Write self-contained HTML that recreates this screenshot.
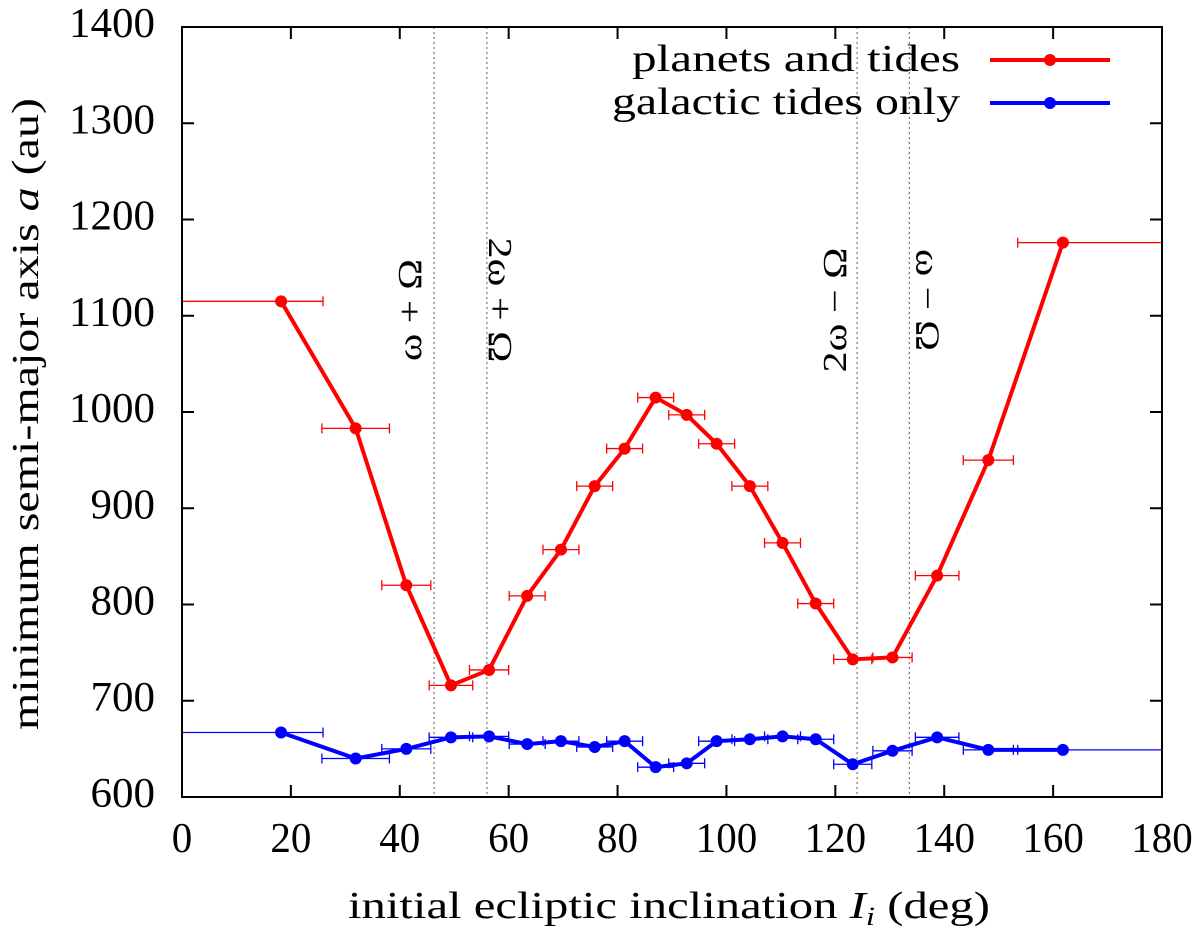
<!DOCTYPE html>
<html><head><meta charset="utf-8"><style>
html,body{margin:0;padding:0;background:#fff;width:1200px;height:935px;overflow:hidden}
svg text{font-family:"Liberation Serif",serif;fill:#000}
</style></head><body>
<svg id="chart" width="1200" height="935" xmlns="http://www.w3.org/2000/svg">
<defs><clipPath id="clip"><rect x="182" y="27" width="980" height="770"/></clipPath></defs>
<g id="grid"></g>
<g id="marks" clip-path="url(#clip)"></g>
<rect x="182" y="27" width="980" height="770" fill="none" stroke="#000" stroke-width="2"/>
<g id="axes"></g>
<text x="348" y="918" font-size="38" textLength="642" lengthAdjust="spacingAndGlyphs">initial ecliptic inclination <tspan font-style="italic">I</tspan><tspan font-style="italic" font-size="26" dy="7">i</tspan><tspan dy="-7"> (deg)</tspan></text>
<text transform="translate(38,730) rotate(-90)" font-size="38" textLength="632" lengthAdjust="spacingAndGlyphs">minimum semi-major axis <tspan font-style="italic">a</tspan> (au)</text>
<g>
<text x="632" y="71" font-size="38" textLength="328" lengthAdjust="spacingAndGlyphs">planets and tides</text>
<line x1="990" y1="60" x2="1110" y2="60" stroke="#f00" stroke-width="4"/><circle cx="1050" cy="60" r="6" fill="#f00"/>
<text x="612" y="114" font-size="38" textLength="348" lengthAdjust="spacingAndGlyphs">galactic tides only</text>
<line x1="990" y1="103" x2="1110" y2="103" stroke="#00f" stroke-width="4"/><circle cx="1050" cy="103" r="6" fill="#00f"/>
</g>
</svg>
<script>
const inclinations=[18.2,31.9,41.2,49.4,56.4,63.4,69.6,75.8,81.3,87.0,92.7,98.2,104.3,110.3,116.4,123.2,130.5,138.7,148.1,161.8];
const xErr=[7.7,6.2,4.5,4.0,3.6,3.3,3.3,3.3,3.3,3.3,3.3,3.3,3.3,3.3,3.3,3.5,3.6,4.0,4.6,8.3];
const planetsValues=[1115,983,820,716,732,809,857,923,962,1015,997,967,923,864,801,743,745,830,950,1176];
const galacticValues=[667,640,650,662,663,655,658,652,658,631,635,658,660,663,660,634,648,662,649,649];
const firstErrLeft=20; const lastErrRight=30;
const resonanceX=[46.3,56.0,124.0,133.6];
const resonanceLabels=["ω + Ω","2ω + Ω","2ω − Ω","ω − Ω"];
const xTicks=[0,20,40,60,80,100,120,140,160,180];
const yTicks=[600,700,800,900,1000,1100,1200,1300,1400];
const NS="http://www.w3.org/2000/svg";
const X=v=>182+v*980/180, Y=v=>797-(v-600)*770/800;
function mk(t,a,p){const e=document.createElementNS(NS,t);for(const k in a)e.setAttribute(k,a[k]);p.appendChild(e);return e;}
const axes=document.getElementById('axes'),marks=document.getElementById('marks'),grid=document.getElementById('grid');
xTicks.forEach(t=>{const x=X(t);
 const l=mk('line',{x1:x,x2:x,y1:797,y2:785,stroke:'#000','stroke-width':2},axes);
 mk('line',{x1:x,x2:x,y1:27,y2:39,stroke:'#000','stroke-width':2},axes);
 const n=String(t).length,w=n*20.5;
 const s=mk('text',{x:x-w/2,y:852,'font-size':42,textLength:w,lengthAdjust:'spacingAndGlyphs'},axes);s.textContent=t;});
yTicks.forEach(t=>{const y=Y(t);
 const l=mk('line',{x1:182,x2:194,y1:y,y2:y,stroke:'#000','stroke-width':2},axes);
 mk('line',{x1:1150,x2:1162,y1:y,y2:y,stroke:'#000','stroke-width':2},axes);
 const n=String(t).length,w=n*21.5;
 const s=mk('text',{x:155-w,y:y+10,'font-size':42,textLength:w,lengthAdjust:'spacingAndGlyphs'},axes);s.textContent=t;});
const labOff=[-24,13,-22,18];
resonanceX.forEach((r,i)=>{const x=X(r);
 const l=mk('line',{x1:x,x2:x,y1:27,y2:797,stroke:'#777','stroke-width':1.2,'stroke-dasharray':'2,3'},grid);
 const cx=x+labOff[i];
 const len=resonanceLabels[i].length>5?125:102;
 const cy=i%2==0?310:300;
 const tf=i%2==0?`translate(${cx+11},${cy+len/2}) rotate(-90)`:`translate(${cx-11},${cy-len/2}) rotate(90)`;
 const s=mk('text',{transform:tf,'font-size':34,textLength:len,lengthAdjust:'spacingAndGlyphs'},grid);s.textContent=resonanceLabels[i];});
function series(vals,col,name){
 let d='';
 vals.forEach((v,i)=>{const x=X(inclinations[i]),y=Y(v);d+=(i?'L':'M')+x+' '+y;
  const lo=i==0?inclinations[i]-firstErrLeft:inclinations[i]-xErr[i];
  const hi=i==vals.length-1?inclinations[i]+lastErrRight:inclinations[i]+xErr[i];
  const g=mk('g',{},marks);
  mk('line',{x1:X(lo),x2:X(hi),y1:y,y2:y,stroke:col,'stroke-width':1.3},g);
  [lo,hi].forEach(e=>mk('line',{x1:X(e),x2:X(e),y1:y-5,y2:y+5,stroke:col,'stroke-width':1.3},g));});
 const p=mk('path',{d:d,fill:'none',stroke:col,'stroke-width':4},marks);
 vals.forEach((v,i)=>{const c=mk('circle',{cx:X(inclinations[i]),cy:Y(v),r:6,fill:col},marks);});
}
series(planetsValues,'#f00','planets-and-tides');
series(galacticValues,'#00f','galactic-tides-only');
</script>
</body></html>
